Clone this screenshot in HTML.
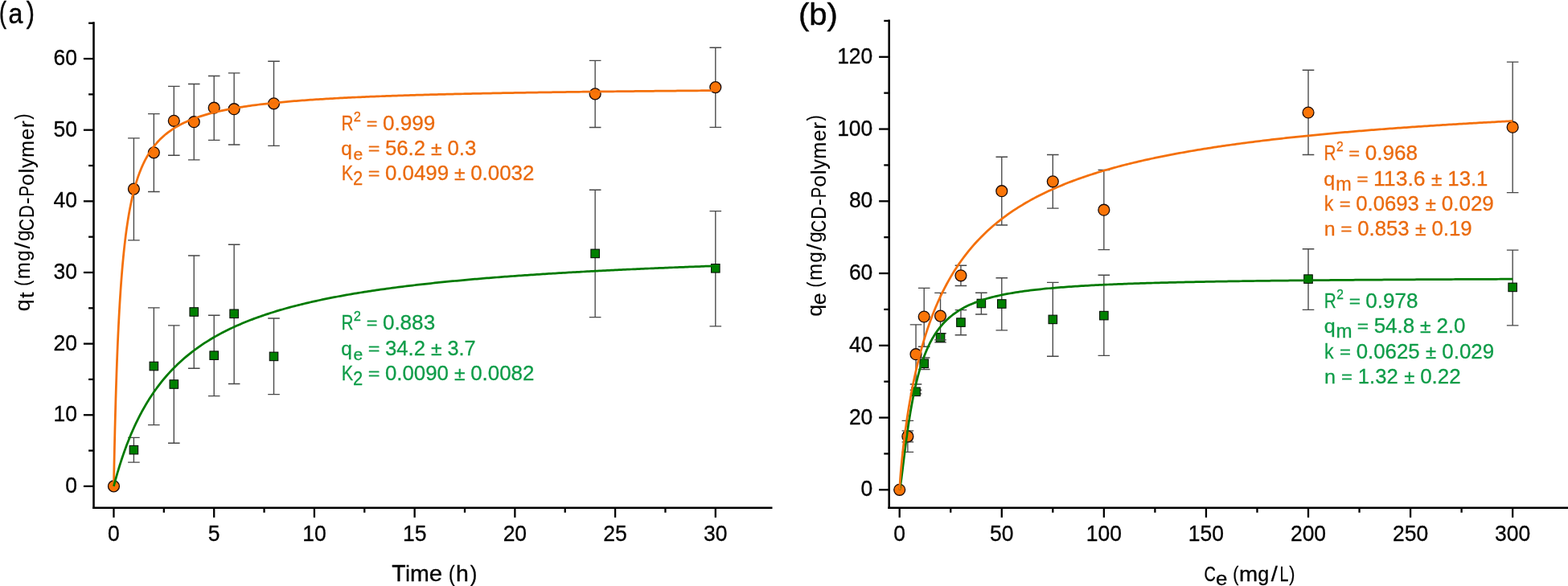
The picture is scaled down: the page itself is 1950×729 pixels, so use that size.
<!DOCTYPE html>
<html lang="en">
<head>
<meta charset="utf-8">
<title>Adsorption kinetics and isotherms</title>
<style>
html,body{margin:0;padding:0;background:#fff;}
body{width:1950px;height:729px;overflow:hidden;}
svg{display:block;font-family:'Liberation Sans',sans-serif;}
</style>
</head>
<body>
<svg width="1950" height="729" viewBox="0 0 1950 729">
<rect width="1950" height="729" fill="#fff"/>
<line x1="116.50" y1="27.20" x2="116.50" y2="632.98" stroke="#000" stroke-width="2.55" stroke-linecap="butt"/>
<line x1="115.22" y1="631.70" x2="960.50" y2="631.70" stroke="#000" stroke-width="2.55" stroke-linecap="butt"/>
<line x1="103.90" y1="604.90" x2="116.50" y2="604.90" stroke="#000" stroke-width="2.3" stroke-linecap="butt"/>
<line x1="103.90" y1="516.26" x2="116.50" y2="516.26" stroke="#000" stroke-width="2.3" stroke-linecap="butt"/>
<line x1="103.90" y1="427.62" x2="116.50" y2="427.62" stroke="#000" stroke-width="2.3" stroke-linecap="butt"/>
<line x1="103.90" y1="338.98" x2="116.50" y2="338.98" stroke="#000" stroke-width="2.3" stroke-linecap="butt"/>
<line x1="103.90" y1="250.34" x2="116.50" y2="250.34" stroke="#000" stroke-width="2.3" stroke-linecap="butt"/>
<line x1="103.90" y1="161.70" x2="116.50" y2="161.70" stroke="#000" stroke-width="2.3" stroke-linecap="butt"/>
<line x1="103.90" y1="73.06" x2="116.50" y2="73.06" stroke="#000" stroke-width="2.3" stroke-linecap="butt"/>
<line x1="110.10" y1="560.58" x2="116.50" y2="560.58" stroke="#000" stroke-width="2.3" stroke-linecap="butt"/>
<line x1="110.10" y1="471.94" x2="116.50" y2="471.94" stroke="#000" stroke-width="2.3" stroke-linecap="butt"/>
<line x1="110.10" y1="383.30" x2="116.50" y2="383.30" stroke="#000" stroke-width="2.3" stroke-linecap="butt"/>
<line x1="110.10" y1="294.66" x2="116.50" y2="294.66" stroke="#000" stroke-width="2.3" stroke-linecap="butt"/>
<line x1="110.10" y1="206.02" x2="116.50" y2="206.02" stroke="#000" stroke-width="2.3" stroke-linecap="butt"/>
<line x1="110.10" y1="117.38" x2="116.50" y2="117.38" stroke="#000" stroke-width="2.3" stroke-linecap="butt"/>
<line x1="110.10" y1="28.74" x2="116.50" y2="28.74" stroke="#000" stroke-width="2.3" stroke-linecap="butt"/>
<line x1="141.46" y1="631.70" x2="141.46" y2="643.80" stroke="#000" stroke-width="2.3" stroke-linecap="butt"/>
<line x1="266.19" y1="631.70" x2="266.19" y2="643.80" stroke="#000" stroke-width="2.3" stroke-linecap="butt"/>
<line x1="390.91" y1="631.70" x2="390.91" y2="643.80" stroke="#000" stroke-width="2.3" stroke-linecap="butt"/>
<line x1="515.63" y1="631.70" x2="515.63" y2="643.80" stroke="#000" stroke-width="2.3" stroke-linecap="butt"/>
<line x1="640.36" y1="631.70" x2="640.36" y2="643.80" stroke="#000" stroke-width="2.3" stroke-linecap="butt"/>
<line x1="765.09" y1="631.70" x2="765.09" y2="643.80" stroke="#000" stroke-width="2.3" stroke-linecap="butt"/>
<line x1="889.81" y1="631.70" x2="889.81" y2="643.80" stroke="#000" stroke-width="2.3" stroke-linecap="butt"/>
<line x1="203.82" y1="631.70" x2="203.82" y2="637.70" stroke="#000" stroke-width="2.3" stroke-linecap="butt"/>
<line x1="328.55" y1="631.70" x2="328.55" y2="637.70" stroke="#000" stroke-width="2.3" stroke-linecap="butt"/>
<line x1="453.27" y1="631.70" x2="453.27" y2="637.70" stroke="#000" stroke-width="2.3" stroke-linecap="butt"/>
<line x1="578.00" y1="631.70" x2="578.00" y2="637.70" stroke="#000" stroke-width="2.3" stroke-linecap="butt"/>
<line x1="702.72" y1="631.70" x2="702.72" y2="637.70" stroke="#000" stroke-width="2.3" stroke-linecap="butt"/>
<line x1="827.45" y1="631.70" x2="827.45" y2="637.70" stroke="#000" stroke-width="2.3" stroke-linecap="butt"/>
<g font-size="27.3" stroke="#000" stroke-width="0.3">
<text x="81.21" y="613" textLength="14.73" lengthAdjust="spacingAndGlyphs">0</text>
<text x="66.48" y="524" textLength="29.45" lengthAdjust="spacingAndGlyphs">10</text>
<text x="66.48" y="436" textLength="29.45" lengthAdjust="spacingAndGlyphs">20</text>
<text x="66.48" y="347" textLength="29.45" lengthAdjust="spacingAndGlyphs">30</text>
<text x="66.48" y="258" textLength="29.45" lengthAdjust="spacingAndGlyphs">40</text>
<text x="66.48" y="170" textLength="29.45" lengthAdjust="spacingAndGlyphs">50</text>
<text x="66.48" y="81" textLength="29.45" lengthAdjust="spacingAndGlyphs">60</text>
<text x="134.10" y="673" textLength="14.73" lengthAdjust="spacingAndGlyphs">0</text>
<text x="258.82" y="673" textLength="14.73" lengthAdjust="spacingAndGlyphs">5</text>
<text x="376.18" y="673" textLength="29.45" lengthAdjust="spacingAndGlyphs">10</text>
<text x="500.91" y="673" textLength="29.45" lengthAdjust="spacingAndGlyphs">15</text>
<text x="625.63" y="673" textLength="29.45" lengthAdjust="spacingAndGlyphs">20</text>
<text x="750.36" y="673" textLength="29.45" lengthAdjust="spacingAndGlyphs">25</text>
<text x="875.08" y="673" textLength="29.45" lengthAdjust="spacingAndGlyphs">30</text>
</g>
<line x1="1105.70" y1="24.50" x2="1105.70" y2="632.98" stroke="#000" stroke-width="2.55" stroke-linecap="butt"/>
<line x1="1104.42" y1="631.70" x2="1950.00" y2="631.70" stroke="#000" stroke-width="2.55" stroke-linecap="butt"/>
<line x1="1093.10" y1="609.30" x2="1105.70" y2="609.30" stroke="#000" stroke-width="2.3" stroke-linecap="butt"/>
<line x1="1093.10" y1="519.55" x2="1105.70" y2="519.55" stroke="#000" stroke-width="2.3" stroke-linecap="butt"/>
<line x1="1093.10" y1="429.80" x2="1105.70" y2="429.80" stroke="#000" stroke-width="2.3" stroke-linecap="butt"/>
<line x1="1093.10" y1="340.05" x2="1105.70" y2="340.05" stroke="#000" stroke-width="2.3" stroke-linecap="butt"/>
<line x1="1093.10" y1="250.30" x2="1105.70" y2="250.30" stroke="#000" stroke-width="2.3" stroke-linecap="butt"/>
<line x1="1093.10" y1="160.55" x2="1105.70" y2="160.55" stroke="#000" stroke-width="2.3" stroke-linecap="butt"/>
<line x1="1093.10" y1="70.80" x2="1105.70" y2="70.80" stroke="#000" stroke-width="2.3" stroke-linecap="butt"/>
<line x1="1099.30" y1="564.42" x2="1105.70" y2="564.42" stroke="#000" stroke-width="2.3" stroke-linecap="butt"/>
<line x1="1099.30" y1="474.67" x2="1105.70" y2="474.67" stroke="#000" stroke-width="2.3" stroke-linecap="butt"/>
<line x1="1099.30" y1="384.92" x2="1105.70" y2="384.92" stroke="#000" stroke-width="2.3" stroke-linecap="butt"/>
<line x1="1099.30" y1="295.17" x2="1105.70" y2="295.17" stroke="#000" stroke-width="2.3" stroke-linecap="butt"/>
<line x1="1099.30" y1="205.42" x2="1105.70" y2="205.42" stroke="#000" stroke-width="2.3" stroke-linecap="butt"/>
<line x1="1099.30" y1="115.67" x2="1105.70" y2="115.67" stroke="#000" stroke-width="2.3" stroke-linecap="butt"/>
<line x1="1099.30" y1="25.92" x2="1105.70" y2="25.92" stroke="#000" stroke-width="2.3" stroke-linecap="butt"/>
<line x1="1118.70" y1="631.70" x2="1118.70" y2="643.80" stroke="#000" stroke-width="2.3" stroke-linecap="butt"/>
<line x1="1245.78" y1="631.70" x2="1245.78" y2="643.80" stroke="#000" stroke-width="2.3" stroke-linecap="butt"/>
<line x1="1372.85" y1="631.70" x2="1372.85" y2="643.80" stroke="#000" stroke-width="2.3" stroke-linecap="butt"/>
<line x1="1499.93" y1="631.70" x2="1499.93" y2="643.80" stroke="#000" stroke-width="2.3" stroke-linecap="butt"/>
<line x1="1627.00" y1="631.70" x2="1627.00" y2="643.80" stroke="#000" stroke-width="2.3" stroke-linecap="butt"/>
<line x1="1754.08" y1="631.70" x2="1754.08" y2="643.80" stroke="#000" stroke-width="2.3" stroke-linecap="butt"/>
<line x1="1881.15" y1="631.70" x2="1881.15" y2="643.80" stroke="#000" stroke-width="2.3" stroke-linecap="butt"/>
<line x1="1182.24" y1="631.70" x2="1182.24" y2="637.70" stroke="#000" stroke-width="2.3" stroke-linecap="butt"/>
<line x1="1309.31" y1="631.70" x2="1309.31" y2="637.70" stroke="#000" stroke-width="2.3" stroke-linecap="butt"/>
<line x1="1436.39" y1="631.70" x2="1436.39" y2="637.70" stroke="#000" stroke-width="2.3" stroke-linecap="butt"/>
<line x1="1563.46" y1="631.70" x2="1563.46" y2="637.70" stroke="#000" stroke-width="2.3" stroke-linecap="butt"/>
<line x1="1690.54" y1="631.70" x2="1690.54" y2="637.70" stroke="#000" stroke-width="2.3" stroke-linecap="butt"/>
<line x1="1817.61" y1="631.70" x2="1817.61" y2="637.70" stroke="#000" stroke-width="2.3" stroke-linecap="butt"/>
<g font-size="27.3" stroke="#000" stroke-width="0.3">
<text x="1070.61" y="617" textLength="14.73" lengthAdjust="spacingAndGlyphs">0</text>
<text x="1055.88" y="528" textLength="29.45" lengthAdjust="spacingAndGlyphs">20</text>
<text x="1055.88" y="438" textLength="29.45" lengthAdjust="spacingAndGlyphs">40</text>
<text x="1055.88" y="348" textLength="29.45" lengthAdjust="spacingAndGlyphs">60</text>
<text x="1055.88" y="258" textLength="29.45" lengthAdjust="spacingAndGlyphs">80</text>
<text x="1041.15" y="169" textLength="44.18" lengthAdjust="spacingAndGlyphs">100</text>
<text x="1041.15" y="79" textLength="44.18" lengthAdjust="spacingAndGlyphs">120</text>
<text x="1111.34" y="673" textLength="14.73" lengthAdjust="spacingAndGlyphs">0</text>
<text x="1231.05" y="673" textLength="29.45" lengthAdjust="spacingAndGlyphs">50</text>
<text x="1350.76" y="673" textLength="44.18" lengthAdjust="spacingAndGlyphs">100</text>
<text x="1477.83" y="673" textLength="44.18" lengthAdjust="spacingAndGlyphs">150</text>
<text x="1604.91" y="673" textLength="44.18" lengthAdjust="spacingAndGlyphs">200</text>
<text x="1731.98" y="673" textLength="44.18" lengthAdjust="spacingAndGlyphs">250</text>
<text x="1859.06" y="673" textLength="44.18" lengthAdjust="spacingAndGlyphs">300</text>
</g>
<path d="M166.41 544.30V575.10M159.10 544.30H173.71M159.10 575.10H173.71" stroke="#474747" stroke-width="1.35" fill="none"/>
<path d="M191.35 382.90V528.60M184.05 382.90H198.65M184.05 528.60H198.65" stroke="#474747" stroke-width="1.35" fill="none"/>
<path d="M216.30 404.80V551.20M209.00 404.80H223.60M209.00 551.20H223.60" stroke="#474747" stroke-width="1.35" fill="none"/>
<path d="M241.24 318.00V458.20M233.94 318.00H248.54M233.94 458.20H248.54" stroke="#474747" stroke-width="1.35" fill="none"/>
<path d="M266.19 392.20V492.60M258.88 392.20H273.49M258.88 492.60H273.49" stroke="#474747" stroke-width="1.35" fill="none"/>
<path d="M291.13 304.20V477.50M283.83 304.20H298.43M283.83 477.50H298.43" stroke="#474747" stroke-width="1.35" fill="none"/>
<path d="M340.52 396.00V490.60M333.22 396.00H347.82M333.22 490.60H347.82" stroke="#474747" stroke-width="1.35" fill="none"/>
<path d="M740.14 236.20V394.60M732.84 236.20H747.44M732.84 394.60H747.44" stroke="#474747" stroke-width="1.35" fill="none"/>
<path d="M889.81 262.60V405.80M882.51 262.60H897.11M882.51 405.80H897.11" stroke="#474747" stroke-width="1.35" fill="none"/>
<rect x="161.16" y="554.45" width="10.5" height="10.5" fill="#008000" stroke="#041004" stroke-width="1.1"/>
<rect x="186.10" y="450.25" width="10.5" height="10.5" fill="#008000" stroke="#041004" stroke-width="1.1"/>
<rect x="211.05" y="472.75" width="10.5" height="10.5" fill="#008000" stroke="#041004" stroke-width="1.1"/>
<rect x="235.99" y="382.75" width="10.5" height="10.5" fill="#008000" stroke="#041004" stroke-width="1.1"/>
<rect x="260.94" y="436.95" width="10.5" height="10.5" fill="#008000" stroke="#041004" stroke-width="1.1"/>
<rect x="285.88" y="385.05" width="10.5" height="10.5" fill="#008000" stroke="#041004" stroke-width="1.1"/>
<rect x="335.27" y="438.15" width="10.5" height="10.5" fill="#008000" stroke="#041004" stroke-width="1.1"/>
<rect x="734.89" y="310.15" width="10.5" height="10.5" fill="#008000" stroke="#041004" stroke-width="1.1"/>
<rect x="884.56" y="328.55" width="10.5" height="10.5" fill="#008000" stroke="#041004" stroke-width="1.1"/>
<path d="M166.41 171.80V298.80M159.10 171.80H173.71M159.10 298.80H173.71" stroke="#474747" stroke-width="1.35" fill="none"/>
<path d="M191.35 141.60V238.50M184.05 141.60H198.65M184.05 238.50H198.65" stroke="#474747" stroke-width="1.35" fill="none"/>
<path d="M216.30 107.40V193.20M209.00 107.40H223.60M209.00 193.20H223.60" stroke="#474747" stroke-width="1.35" fill="none"/>
<path d="M241.24 104.50V198.90M233.94 104.50H248.54M233.94 198.90H248.54" stroke="#474747" stroke-width="1.35" fill="none"/>
<path d="M266.19 94.50V174.30M258.88 94.50H273.49M258.88 174.30H273.49" stroke="#474747" stroke-width="1.35" fill="none"/>
<path d="M291.13 90.90V180.00M283.83 90.90H298.43M283.83 180.00H298.43" stroke="#474747" stroke-width="1.35" fill="none"/>
<path d="M340.52 76.20V181.40M333.22 76.20H347.82M333.22 181.40H347.82" stroke="#474747" stroke-width="1.35" fill="none"/>
<path d="M740.14 75.40V158.50M732.84 75.40H747.44M732.84 158.50H747.44" stroke="#474747" stroke-width="1.35" fill="none"/>
<path d="M889.81 59.20V158.30M882.51 59.20H897.11M882.51 158.30H897.11" stroke="#474747" stroke-width="1.35" fill="none"/>
<circle cx="166.41" cy="235.10" r="6.95" fill="#fa7508" stroke="#1a0a05" stroke-width="1.3"/>
<circle cx="191.35" cy="189.80" r="6.95" fill="#fa7508" stroke="#1a0a05" stroke-width="1.3"/>
<circle cx="216.30" cy="150.30" r="6.95" fill="#fa7508" stroke="#1a0a05" stroke-width="1.3"/>
<circle cx="241.24" cy="151.70" r="6.95" fill="#fa7508" stroke="#1a0a05" stroke-width="1.3"/>
<circle cx="266.19" cy="134.20" r="6.95" fill="#fa7508" stroke="#1a0a05" stroke-width="1.3"/>
<circle cx="291.13" cy="135.70" r="6.95" fill="#fa7508" stroke="#1a0a05" stroke-width="1.3"/>
<circle cx="340.52" cy="128.80" r="6.95" fill="#fa7508" stroke="#1a0a05" stroke-width="1.3"/>
<circle cx="740.14" cy="116.90" r="6.95" fill="#fa7508" stroke="#1a0a05" stroke-width="1.3"/>
<circle cx="889.81" cy="108.60" r="6.95" fill="#fa7508" stroke="#1a0a05" stroke-width="1.3"/>
<circle cx="141.46" cy="604.90" r="6.95" fill="#fa7508" stroke="#1a0a05" stroke-width="1.3"/>
<polyline points="141.46,604.90 141.96,578.44 142.46,554.66 142.96,533.15 143.46,513.62 143.95,495.80 144.45,479.47 144.95,464.46 145.45,450.61 145.95,437.79 146.45,425.90 146.95,414.82 147.45,404.50 147.95,394.84 148.44,385.79 148.94,377.29 149.44,369.29 149.94,361.75 150.44,354.63 150.94,347.90 151.44,341.53 151.94,335.48 152.44,329.74 152.93,324.28 153.43,319.08 153.93,314.12 154.43,309.39 154.93,304.87 155.43,300.54 155.93,296.41 156.43,292.44 156.93,288.64 157.42,284.99 157.92,281.48 158.42,278.11 158.92,274.87 159.42,271.74 159.92,268.73 160.42,265.83 160.92,263.03 161.42,260.33 161.91,257.72 162.41,255.20 162.91,252.75 163.41,250.39 163.91,248.11 164.41,245.89 164.91,243.75 165.41,241.66 165.91,239.65 166.41,237.69 166.90,235.78 167.40,233.94 167.90,232.14 168.40,230.39 168.90,228.70 169.40,227.04 169.90,225.44 170.40,223.87 170.90,222.35 171.39,220.86 171.89,219.41 172.39,218.00 172.89,216.63 173.39,215.28 173.89,213.97 174.39,212.69 174.89,211.44 175.39,210.22 175.88,209.03 176.38,207.87 176.88,206.73 177.38,205.62 177.88,204.53 178.38,203.46 178.88,202.42 179.38,201.40 179.88,200.40 180.37,199.43 180.87,198.47 181.37,197.53 181.87,196.61 182.37,195.71 182.87,194.83 183.37,193.97 183.87,193.12 184.37,192.29 184.86,191.47 185.36,190.67 185.86,189.88 186.36,189.11 186.86,188.36 187.36,187.61 187.86,186.88 188.36,186.17 188.86,185.46 189.35,184.77 189.85,184.09 190.35,183.42 190.85,182.77 191.35,182.12 193.84,179.05 196.34,176.22 198.83,173.61 201.33,171.18 203.82,168.93 206.32,166.82 208.81,164.86 211.31,163.02 213.80,161.29 216.30,159.66 218.79,158.13 221.28,156.69 223.78,155.32 226.27,154.03 228.77,152.80 231.26,151.64 233.76,150.53 236.25,149.48 238.75,148.48 241.24,147.52 243.73,146.60 246.23,145.73 248.72,144.89 251.22,144.09 253.71,143.32 256.21,142.58 258.70,141.87 261.20,141.19 263.69,140.54 266.19,139.91 268.68,139.30 271.17,138.71 273.67,138.15 276.16,137.60 278.66,137.07 281.15,136.56 283.65,136.07 286.14,135.60 288.64,135.13 291.13,134.69 293.62,134.26 296.12,133.84 298.61,133.43 301.11,133.03 303.60,132.65 306.10,132.28 308.59,131.92 311.09,131.56 313.58,131.22 316.08,130.89 318.57,130.57 321.06,130.25 323.56,129.94 326.05,129.64 328.55,129.35 331.04,129.07 333.54,128.79 336.03,128.52 338.53,128.26 341.02,128.00 343.51,127.75 346.01,127.50 348.50,127.26 351.00,127.03 353.49,126.80 355.99,126.58 358.48,126.36 360.98,126.14 363.47,125.93 365.97,125.73 368.46,125.53 370.95,125.33 373.45,125.14 375.94,124.95 378.44,124.77 380.93,124.58 383.43,124.41 385.92,124.23 388.42,124.06 390.91,123.90 393.40,123.73 395.90,123.57 398.39,123.41 400.89,123.26 403.38,123.11 405.88,122.96 408.37,122.81 410.87,122.67 413.36,122.52 415.86,122.38 418.35,122.25 420.84,122.11 423.34,121.98 425.83,121.85 428.33,121.73 430.82,121.60 433.32,121.48 435.81,121.36 438.31,121.24 440.80,121.12 443.29,121.00 445.79,120.89 448.28,120.78 450.78,120.67 453.27,120.56 455.77,120.45 458.26,120.35 460.76,120.24 463.25,120.14 465.75,120.04 468.24,119.94 470.73,119.85 473.23,119.75 475.72,119.66 478.22,119.56 480.71,119.47 483.21,119.38 485.70,119.29 488.20,119.20 490.69,119.12 493.18,119.03 495.68,118.95 498.17,118.86 500.67,118.78 503.16,118.70 505.66,118.62 508.15,118.54 510.65,118.46 513.14,118.39 515.63,118.31 518.13,118.24 520.62,118.16 523.12,118.09 525.61,118.02 528.11,117.95 530.60,117.88 533.10,117.81 535.59,117.74 538.09,117.67 540.58,117.60 543.07,117.54 545.57,117.47 548.06,117.41 550.56,117.34 553.05,117.28 555.55,117.22 558.04,117.16 560.54,117.10 563.03,117.04 565.52,116.98 568.02,116.92 570.51,116.86 573.01,116.80 575.50,116.75 578.00,116.69 580.49,116.64 582.99,116.58 585.48,116.53 587.98,116.47 590.47,116.42 592.96,116.37 595.46,116.32 597.95,116.26 600.45,116.21 602.94,116.16 605.44,116.11 607.93,116.06 610.43,116.02 612.92,115.97 615.41,115.92 617.91,115.87 620.40,115.83 622.90,115.78 625.39,115.73 627.89,115.69 630.38,115.64 632.88,115.60 635.37,115.56 637.87,115.51 640.36,115.47 642.85,115.43 645.35,115.38 647.84,115.34 650.34,115.30 652.83,115.26 655.33,115.22 657.82,115.18 660.32,115.14 662.81,115.10 665.31,115.06 667.80,115.02 670.29,114.98 672.79,114.95 675.28,114.91 677.78,114.87 680.27,114.83 682.77,114.80 685.26,114.76 687.76,114.72 690.25,114.69 692.74,114.65 695.24,114.62 697.73,114.58 700.23,114.55 702.72,114.51 705.22,114.48 707.71,114.45 710.21,114.41 712.70,114.38 715.20,114.35 717.69,114.32 720.18,114.28 722.68,114.25 725.17,114.22 727.67,114.19 730.16,114.16 732.66,114.13 735.15,114.10 737.65,114.07 740.14,114.04 742.63,114.01 745.13,113.98 747.62,113.95 750.12,113.92 752.61,113.89 755.11,113.86 757.60,113.83 760.10,113.80 762.59,113.78 765.09,113.75 767.58,113.72 770.07,113.69 772.57,113.67 775.06,113.64 777.56,113.61 780.05,113.59 782.55,113.56 785.04,113.53 787.54,113.51 790.03,113.48 792.52,113.46 795.02,113.43 797.51,113.41 800.01,113.38 802.50,113.36 805.00,113.33 807.49,113.31 809.99,113.28 812.48,113.26 814.98,113.24 817.47,113.21 819.96,113.19 822.46,113.17 824.95,113.14 827.45,113.12 829.94,113.10 832.44,113.07 834.93,113.05 837.43,113.03 839.92,113.01 842.41,112.99 844.91,112.96 847.40,112.94 849.90,112.92 852.39,112.90 854.89,112.88 857.38,112.86 859.88,112.84 862.37,112.81 864.87,112.79 867.36,112.77 869.85,112.75 872.35,112.73 874.84,112.71 877.34,112.69 879.83,112.67 882.33,112.65 884.82,112.63 887.32,112.61 889.81,112.59" fill="none" stroke="#f4700a" stroke-width="2.75" stroke-linejoin="round" stroke-linecap="butt"/>
<polyline points="141.46,604.90 141.96,603.00 142.46,601.13 142.96,599.28 143.46,597.46 143.95,595.65 144.45,593.87 144.95,592.11 145.45,590.37 145.95,588.65 146.45,586.95 146.95,585.27 147.45,583.62 147.95,581.98 148.44,580.36 148.94,578.75 149.44,577.17 149.94,575.60 150.44,574.06 150.94,572.53 151.44,571.01 151.94,569.52 152.44,568.04 152.93,566.57 153.43,565.12 153.93,563.69 154.43,562.27 154.93,560.87 155.43,559.49 155.93,558.12 156.43,556.76 156.93,555.42 157.42,554.09 157.92,552.77 158.42,551.47 158.92,550.18 159.42,548.91 159.92,547.65 160.42,546.40 160.92,545.16 161.42,543.94 161.91,542.73 162.41,541.53 162.91,540.34 163.41,539.16 163.91,538.00 164.41,536.85 164.91,535.71 165.41,534.57 165.91,533.45 166.41,532.35 166.90,531.25 167.40,530.16 167.90,529.08 168.40,528.01 168.90,526.96 169.40,525.91 169.90,524.87 170.40,523.84 170.90,522.82 171.39,521.81 171.89,520.81 172.39,519.82 172.89,518.84 173.39,517.86 173.89,516.90 174.39,515.94 174.89,514.99 175.39,514.05 175.88,513.12 176.38,512.20 176.88,511.28 177.38,510.38 177.88,509.48 178.38,508.58 178.88,507.70 179.38,506.82 179.88,505.95 180.37,505.09 180.87,504.24 181.37,503.39 181.87,502.55 182.37,501.72 182.87,500.89 183.37,500.07 183.87,499.26 184.37,498.45 184.86,497.65 185.36,496.86 185.86,496.07 186.36,495.29 186.86,494.51 187.36,493.75 187.86,492.98 188.36,492.23 188.86,491.48 189.35,490.73 189.85,490.00 190.35,489.26 190.85,488.54 191.35,487.81 193.84,484.29 196.34,480.90 198.83,477.63 201.33,474.47 203.82,471.43 206.32,468.49 208.81,465.66 211.31,462.92 213.80,460.26 216.30,457.70 218.79,455.21 221.28,452.81 223.78,450.48 226.27,448.22 228.77,446.02 231.26,443.89 233.76,441.83 236.25,439.82 238.75,437.87 241.24,435.97 243.73,434.13 246.23,432.34 248.72,430.59 251.22,428.89 253.71,427.23 256.21,425.62 258.70,424.05 261.20,422.51 263.69,421.02 266.19,419.56 268.68,418.14 271.17,416.75 273.67,415.39 276.16,414.07 278.66,412.77 281.15,411.51 283.65,410.27 286.14,409.06 288.64,407.88 291.13,406.73 293.62,405.59 296.12,404.49 298.61,403.40 301.11,402.34 303.60,401.30 306.10,400.28 308.59,399.29 311.09,398.31 313.58,397.35 316.08,396.41 318.57,395.49 321.06,394.59 323.56,393.70 326.05,392.83 328.55,391.98 331.04,391.14 333.54,390.32 336.03,389.51 338.53,388.72 341.02,387.94 343.51,387.18 346.01,386.43 348.50,385.69 351.00,384.97 353.49,384.25 355.99,383.55 358.48,382.86 360.98,382.19 363.47,381.52 365.97,380.87 368.46,380.22 370.95,379.59 373.45,378.96 375.94,378.35 378.44,377.75 380.93,377.15 383.43,376.57 385.92,375.99 388.42,375.42 390.91,374.86 393.40,374.31 395.90,373.77 398.39,373.24 400.89,372.71 403.38,372.19 405.88,371.68 408.37,371.17 410.87,370.68 413.36,370.19 415.86,369.71 418.35,369.23 420.84,368.76 423.34,368.30 425.83,367.84 428.33,367.39 430.82,366.95 433.32,366.51 435.81,366.08 438.31,365.65 440.80,365.23 443.29,364.81 445.79,364.40 448.28,364.00 450.78,363.60 453.27,363.20 455.77,362.81 458.26,362.43 460.76,362.05 463.25,361.68 465.75,361.31 468.24,360.94 470.73,360.58 473.23,360.22 475.72,359.87 478.22,359.52 480.71,359.18 483.21,358.84 485.70,358.50 488.20,358.17 490.69,357.84 493.18,357.51 495.68,357.19 498.17,356.88 500.67,356.56 503.16,356.25 505.66,355.95 508.15,355.64 510.65,355.34 513.14,355.05 515.63,354.75 518.13,354.46 520.62,354.18 523.12,353.89 525.61,353.61 528.11,353.33 530.60,353.06 533.10,352.79 535.59,352.52 538.09,352.25 540.58,351.99 543.07,351.73 545.57,351.47 548.06,351.22 550.56,350.96 553.05,350.71 555.55,350.47 558.04,350.22 560.54,349.98 563.03,349.74 565.52,349.50 568.02,349.26 570.51,349.03 573.01,348.80 575.50,348.57 578.00,348.35 580.49,348.12 582.99,347.90 585.48,347.68 587.98,347.46 590.47,347.24 592.96,347.03 595.46,346.82 597.95,346.61 600.45,346.40 602.94,346.20 605.44,345.99 607.93,345.79 610.43,345.59 612.92,345.39 615.41,345.19 617.91,345.00 620.40,344.81 622.90,344.61 625.39,344.42 627.89,344.24 630.38,344.05 632.88,343.86 635.37,343.68 637.87,343.50 640.36,343.32 642.85,343.14 645.35,342.96 647.84,342.79 650.34,342.61 652.83,342.44 655.33,342.27 657.82,342.10 660.32,341.93 662.81,341.77 665.31,341.60 667.80,341.44 670.29,341.27 672.79,341.11 675.28,340.95 677.78,340.79 680.27,340.64 682.77,340.48 685.26,340.32 687.76,340.17 690.25,340.02 692.74,339.87 695.24,339.72 697.73,339.57 700.23,339.42 702.72,339.27 705.22,339.13 707.71,338.98 710.21,338.84 712.70,338.70 715.20,338.56 717.69,338.42 720.18,338.28 722.68,338.14 725.17,338.00 727.67,337.87 730.16,337.73 732.66,337.60 735.15,337.46 737.65,337.33 740.14,337.20 742.63,337.07 745.13,336.94 747.62,336.81 750.12,336.69 752.61,336.56 755.11,336.44 757.60,336.31 760.10,336.19 762.59,336.07 765.09,335.94 767.58,335.82 770.07,335.70 772.57,335.58 775.06,335.46 777.56,335.35 780.05,335.23 782.55,335.11 785.04,335.00 787.54,334.89 790.03,334.77 792.52,334.66 795.02,334.55 797.51,334.44 800.01,334.33 802.50,334.22 805.00,334.11 807.49,334.00 809.99,333.89 812.48,333.78 814.98,333.68 817.47,333.57 819.96,333.47 822.46,333.36 824.95,333.26 827.45,333.16 829.94,333.06 832.44,332.95 834.93,332.85 837.43,332.75 839.92,332.65 842.41,332.55 844.91,332.46 847.40,332.36 849.90,332.26 852.39,332.17 854.89,332.07 857.38,331.97 859.88,331.88 862.37,331.79 864.87,331.69 867.36,331.60 869.85,331.51 872.35,331.42 874.84,331.33 877.34,331.23 879.83,331.15 882.33,331.06 884.82,330.97 887.32,330.88 889.81,330.79" fill="none" stroke="#007a00" stroke-width="2.75" stroke-linejoin="round" stroke-linecap="butt"/>
<path d="M1128.87 535.90V549.90M1121.57 535.90H1136.17M1121.57 549.90H1136.17" stroke="#474747" stroke-width="1.35" fill="none"/>
<path d="M1139.03 485.20V489.80M1131.73 485.20H1146.33M1131.73 489.80H1146.33" stroke="#474747" stroke-width="1.35" fill="none"/>
<path d="M1149.20 445.00V459.50M1141.90 445.00H1156.50M1141.90 459.50H1156.50" stroke="#474747" stroke-width="1.35" fill="none"/>
<path d="M1169.53 414.70V425.80M1162.23 414.70H1176.83M1162.23 425.80H1176.83" stroke="#474747" stroke-width="1.35" fill="none"/>
<path d="M1194.95 385.60V416.70M1187.65 385.60H1202.25M1187.65 416.70H1202.25" stroke="#474747" stroke-width="1.35" fill="none"/>
<path d="M1220.36 364.20V391.00M1213.06 364.20H1227.66M1213.06 391.00H1227.66" stroke="#474747" stroke-width="1.35" fill="none"/>
<path d="M1245.78 345.70V410.90M1238.48 345.70H1253.08M1238.48 410.90H1253.08" stroke="#474747" stroke-width="1.35" fill="none"/>
<path d="M1309.31 351.30V443.20M1302.01 351.30H1316.61M1302.01 443.20H1316.61" stroke="#474747" stroke-width="1.35" fill="none"/>
<path d="M1372.85 342.20V442.30M1365.55 342.20H1380.15M1365.55 442.30H1380.15" stroke="#474747" stroke-width="1.35" fill="none"/>
<path d="M1627.00 309.70V385.40M1619.70 309.70H1634.30M1619.70 385.40H1634.30" stroke="#474747" stroke-width="1.35" fill="none"/>
<path d="M1881.15 311.10V404.80M1873.85 311.10H1888.45M1873.85 404.80H1888.45" stroke="#474747" stroke-width="1.35" fill="none"/>
<rect x="1123.62" y="537.65" width="10.5" height="10.5" fill="#008000" stroke="#041004" stroke-width="1.1"/>
<rect x="1133.78" y="482.05" width="10.5" height="10.5" fill="#008000" stroke="#041004" stroke-width="1.1"/>
<rect x="1143.95" y="446.95" width="10.5" height="10.5" fill="#008000" stroke="#041004" stroke-width="1.1"/>
<rect x="1164.28" y="414.75" width="10.5" height="10.5" fill="#008000" stroke="#041004" stroke-width="1.1"/>
<rect x="1189.70" y="395.85" width="10.5" height="10.5" fill="#008000" stroke="#041004" stroke-width="1.1"/>
<rect x="1215.11" y="372.25" width="10.5" height="10.5" fill="#008000" stroke="#041004" stroke-width="1.1"/>
<rect x="1240.53" y="372.75" width="10.5" height="10.5" fill="#008000" stroke="#041004" stroke-width="1.1"/>
<rect x="1304.06" y="392.15" width="10.5" height="10.5" fill="#008000" stroke="#041004" stroke-width="1.1"/>
<rect x="1367.60" y="387.35" width="10.5" height="10.5" fill="#008000" stroke="#041004" stroke-width="1.1"/>
<rect x="1621.75" y="341.85" width="10.5" height="10.5" fill="#008000" stroke="#041004" stroke-width="1.1"/>
<rect x="1875.90" y="352.15" width="10.5" height="10.5" fill="#008000" stroke="#041004" stroke-width="1.1"/>
<path d="M1128.87 523.40V562.30M1121.57 523.40H1136.17M1121.57 562.30H1136.17" stroke="#474747" stroke-width="1.35" fill="none"/>
<path d="M1139.03 403.80V478.00M1131.73 403.80H1146.33M1131.73 478.00H1146.33" stroke="#474747" stroke-width="1.35" fill="none"/>
<path d="M1149.20 358.40V431.20M1141.90 358.40H1156.50M1141.90 431.20H1156.50" stroke="#474747" stroke-width="1.35" fill="none"/>
<path d="M1169.53 364.30V422.90M1162.23 364.30H1176.83M1162.23 422.90H1176.83" stroke="#474747" stroke-width="1.35" fill="none"/>
<path d="M1194.95 330.20V355.50M1187.65 330.20H1202.25M1187.65 355.50H1202.25" stroke="#474747" stroke-width="1.35" fill="none"/>
<path d="M1245.78 195.20V280.00M1238.48 195.20H1253.08M1238.48 280.00H1253.08" stroke="#474747" stroke-width="1.35" fill="none"/>
<path d="M1309.31 192.50V259.10M1302.01 192.50H1316.61M1302.01 259.10H1316.61" stroke="#474747" stroke-width="1.35" fill="none"/>
<path d="M1372.85 211.50V310.60M1365.55 211.50H1380.15M1365.55 310.60H1380.15" stroke="#474747" stroke-width="1.35" fill="none"/>
<path d="M1627.00 87.20V192.50M1619.70 87.20H1634.30M1619.70 192.50H1634.30" stroke="#474747" stroke-width="1.35" fill="none"/>
<path d="M1881.15 77.10V239.60M1873.85 77.10H1888.45M1873.85 239.60H1888.45" stroke="#474747" stroke-width="1.35" fill="none"/>
<circle cx="1128.87" cy="542.90" r="6.95" fill="#fa7508" stroke="#1a0a05" stroke-width="1.3"/>
<circle cx="1139.03" cy="440.70" r="6.95" fill="#fa7508" stroke="#1a0a05" stroke-width="1.3"/>
<circle cx="1149.20" cy="394.00" r="6.95" fill="#fa7508" stroke="#1a0a05" stroke-width="1.3"/>
<circle cx="1169.53" cy="393.10" r="6.95" fill="#fa7508" stroke="#1a0a05" stroke-width="1.3"/>
<circle cx="1194.95" cy="342.80" r="6.95" fill="#fa7508" stroke="#1a0a05" stroke-width="1.3"/>
<circle cx="1245.78" cy="237.70" r="6.95" fill="#fa7508" stroke="#1a0a05" stroke-width="1.3"/>
<circle cx="1309.31" cy="225.80" r="6.95" fill="#fa7508" stroke="#1a0a05" stroke-width="1.3"/>
<circle cx="1372.85" cy="261.20" r="6.95" fill="#fa7508" stroke="#1a0a05" stroke-width="1.3"/>
<circle cx="1627.00" cy="140.00" r="6.95" fill="#fa7508" stroke="#1a0a05" stroke-width="1.3"/>
<circle cx="1881.15" cy="158.20" r="6.95" fill="#fa7508" stroke="#1a0a05" stroke-width="1.3"/>
<circle cx="1118.70" cy="609.30" r="6.95" fill="#fa7508" stroke="#1a0a05" stroke-width="1.3"/>
<polyline points="1118.70,609.30 1118.95,608.50 1119.21,607.30 1119.46,605.91 1119.72,604.38 1119.97,602.73 1120.22,601.01 1120.48,599.21 1120.73,597.36 1120.99,595.45 1121.24,593.52 1121.50,591.54 1121.75,589.55 1122.00,587.53 1122.26,585.50 1122.51,583.46 1122.77,581.40 1123.02,579.34 1123.27,577.28 1123.53,575.23 1123.78,573.17 1124.04,571.11 1124.29,569.07 1124.55,567.03 1124.80,565.00 1125.05,562.98 1125.31,560.97 1125.56,558.97 1125.82,556.99 1126.07,555.02 1126.32,553.07 1126.58,551.13 1126.83,549.21 1127.09,547.31 1127.34,545.42 1127.60,543.55 1127.85,541.70 1128.10,539.87 1128.36,538.06 1128.61,536.26 1128.87,534.48 1129.12,532.73 1129.37,530.99 1129.63,529.27 1129.88,527.57 1130.14,525.88 1130.39,524.22 1130.65,522.58 1130.90,520.95 1131.15,519.35 1131.41,517.76 1131.66,516.19 1131.92,514.64 1132.17,513.11 1132.42,511.60 1132.68,510.11 1132.93,508.63 1133.19,507.17 1133.44,505.73 1133.69,504.31 1133.95,502.90 1134.20,501.52 1134.46,500.14 1134.71,498.79 1134.97,497.45 1135.22,496.13 1135.47,494.83 1135.73,493.54 1135.98,492.27 1136.24,491.01 1136.49,489.77 1136.74,488.55 1137.00,487.34 1137.25,486.14 1137.51,484.96 1137.76,483.79 1138.02,482.64 1138.27,481.51 1138.52,480.38 1138.78,479.27 1139.03,478.18 1139.29,477.10 1139.54,476.03 1139.79,474.97 1140.05,473.93 1140.30,472.90 1140.56,471.88 1140.81,470.88 1141.07,469.88 1141.32,468.90 1141.57,467.93 1141.83,466.98 1142.08,466.03 1142.34,465.10 1142.59,464.17 1142.84,463.26 1143.10,462.36 1143.35,461.47 1143.61,460.59 1143.86,459.72 1144.12,458.86 1144.37,458.01 1144.62,457.17 1144.88,456.34 1145.13,455.52 1145.39,454.71 1145.64,453.91 1145.89,453.12 1146.15,452.33 1146.40,451.56 1146.66,450.80 1146.91,450.04 1147.16,449.29 1147.42,448.55 1147.67,447.82 1147.93,447.10 1148.18,446.39 1148.44,445.68 1148.69,444.98 1148.94,444.29 1149.20,443.61 1149.45,442.93 1149.71,442.26 1149.96,441.60 1150.21,440.95 1150.47,440.30 1150.72,439.66 1150.98,439.03 1151.23,438.41 1151.49,437.79 1151.74,437.18 1151.99,436.57 1152.25,435.97 1152.50,435.38 1152.76,434.79 1153.01,434.21 1153.26,433.64 1153.52,433.07 1153.77,432.51 1154.03,431.95 1154.28,431.40 1154.54,430.85 1154.79,430.32 1155.04,429.78 1155.30,429.25 1155.55,428.73 1155.81,428.21 1156.06,427.70 1156.31,427.19 1156.57,426.69 1156.82,426.19 1157.08,425.70 1157.33,425.22 1157.58,424.73 1157.84,424.26 1158.09,423.78 1158.35,423.31 1158.60,422.85 1158.86,422.39 1159.11,421.94 1159.36,421.49 1159.62,421.04 1159.87,420.60 1160.13,420.16 1160.38,419.73 1160.63,419.30 1160.89,418.88 1161.14,418.45 1161.40,418.04 1161.65,417.63 1161.91,417.22 1162.16,416.81 1162.41,416.41 1162.67,416.01 1162.92,415.62 1163.18,415.23 1163.43,414.84 1163.68,414.46 1163.94,414.08 1164.19,413.70 1164.45,413.33 1164.70,412.96 1164.96,412.59 1165.21,412.23 1165.46,411.87 1165.72,411.51 1165.97,411.16 1166.23,410.81 1166.48,410.46 1166.73,410.12 1166.99,409.78 1167.24,409.44 1167.50,409.10 1167.75,408.77 1168.01,408.44 1168.26,408.12 1168.51,407.79 1168.77,407.47 1169.02,407.15 1169.28,406.84 1169.53,406.53 1172.07,403.54 1174.61,400.79 1177.15,398.26 1179.70,395.91 1182.24,393.73 1184.78,391.71 1187.32,389.82 1189.86,388.07 1192.40,386.42 1194.95,384.88 1197.49,383.44 1200.03,382.08 1202.57,380.81 1205.11,379.61 1207.65,378.47 1210.19,377.40 1212.74,376.39 1215.28,375.42 1217.82,374.51 1220.36,373.65 1222.90,372.83 1225.44,372.04 1227.98,371.30 1230.53,370.59 1233.07,369.91 1235.61,369.26 1238.15,368.64 1240.69,368.05 1243.23,367.49 1245.78,366.94 1248.32,366.42 1250.86,365.92 1253.40,365.44 1255.94,364.98 1258.48,364.54 1261.02,364.11 1263.57,363.70 1266.11,363.30 1268.65,362.92 1271.19,362.56 1273.73,362.20 1276.27,361.86 1278.81,361.53 1281.36,361.21 1283.90,360.90 1286.44,360.60 1288.98,360.31 1291.52,360.03 1294.06,359.76 1296.61,359.50 1299.15,359.24 1301.69,358.99 1304.23,358.75 1306.77,358.52 1309.31,358.29 1311.85,358.07 1314.40,357.86 1316.94,357.65 1319.48,357.45 1322.02,357.26 1324.56,357.07 1327.10,356.88 1329.64,356.70 1332.19,356.52 1334.73,356.35 1337.27,356.18 1339.81,356.02 1342.35,355.86 1344.89,355.71 1347.43,355.56 1349.98,355.41 1352.52,355.27 1355.06,355.12 1357.60,354.99 1360.14,354.85 1362.68,354.72 1365.23,354.60 1367.77,354.47 1370.31,354.35 1372.85,354.23 1375.39,354.11 1377.93,354.00 1380.47,353.89 1383.02,353.78 1385.56,353.67 1388.10,353.56 1390.64,353.46 1393.18,353.36 1395.72,353.26 1398.27,353.17 1400.81,353.07 1403.35,352.98 1405.89,352.89 1408.43,352.80 1410.97,352.71 1413.51,352.63 1416.06,352.54 1418.60,352.46 1421.14,352.38 1423.68,352.30 1426.22,352.22 1428.76,352.15 1431.30,352.07 1433.85,352.00 1436.39,351.92 1438.93,351.85 1441.47,351.78 1444.01,351.72 1446.55,351.65 1449.10,351.58 1451.64,351.52 1454.18,351.45 1456.72,351.39 1459.26,351.33 1461.80,351.27 1464.34,351.21 1466.89,351.15 1469.43,351.09 1471.97,351.03 1474.51,350.98 1477.05,350.92 1479.59,350.87 1482.13,350.82 1484.68,350.76 1487.22,350.71 1489.76,350.66 1492.30,350.61 1494.84,350.56 1497.38,350.51 1499.93,350.46 1502.47,350.42 1505.01,350.37 1507.55,350.32 1510.09,350.28 1512.63,350.24 1515.17,350.19 1517.72,350.15 1520.26,350.11 1522.80,350.06 1525.34,350.02 1527.88,349.98 1530.42,349.94 1532.96,349.90 1535.51,349.86 1538.05,349.82 1540.59,349.79 1543.13,349.75 1545.67,349.71 1548.21,349.68 1550.76,349.64 1553.30,349.60 1555.84,349.57 1558.38,349.53 1560.92,349.50 1563.46,349.47 1566.00,349.43 1568.55,349.40 1571.09,349.37 1573.63,349.34 1576.17,349.30 1578.71,349.27 1581.25,349.24 1583.79,349.21 1586.34,349.18 1588.88,349.15 1591.42,349.12 1593.96,349.09 1596.50,349.06 1599.04,349.04 1601.59,349.01 1604.13,348.98 1606.67,348.95 1609.21,348.93 1611.75,348.90 1614.29,348.87 1616.83,348.85 1619.38,348.82 1621.92,348.80 1624.46,348.77 1627.00,348.75 1629.54,348.72 1632.08,348.70 1634.62,348.67 1637.17,348.65 1639.71,348.63 1642.25,348.60 1644.79,348.58 1647.33,348.56 1649.87,348.53 1652.41,348.51 1654.96,348.49 1657.50,348.47 1660.04,348.45 1662.58,348.43 1665.12,348.41 1667.66,348.38 1670.21,348.36 1672.75,348.34 1675.29,348.32 1677.83,348.30 1680.37,348.28 1682.91,348.26 1685.45,348.24 1688.00,348.23 1690.54,348.21 1693.08,348.19 1695.62,348.17 1698.16,348.15 1700.70,348.13 1703.25,348.11 1705.79,348.10 1708.33,348.08 1710.87,348.06 1713.41,348.04 1715.95,348.03 1718.49,348.01 1721.04,347.99 1723.58,347.98 1726.12,347.96 1728.66,347.94 1731.20,347.93 1733.74,347.91 1736.28,347.89 1738.83,347.88 1741.37,347.86 1743.91,347.85 1746.45,347.83 1748.99,347.82 1751.53,347.80 1754.08,347.79 1756.62,347.77 1759.16,347.76 1761.70,347.74 1764.24,347.73 1766.78,347.71 1769.32,347.70 1771.87,347.69 1774.41,347.67 1776.95,347.66 1779.49,347.65 1782.03,347.63 1784.57,347.62 1787.11,347.61 1789.66,347.59 1792.20,347.58 1794.74,347.57 1797.28,347.55 1799.82,347.54 1802.36,347.53 1804.91,347.52 1807.45,347.50 1809.99,347.49 1812.53,347.48 1815.07,347.47 1817.61,347.45 1820.15,347.44 1822.70,347.43 1825.24,347.42 1827.78,347.41 1830.32,347.40 1832.86,347.38 1835.40,347.37 1837.94,347.36 1840.49,347.35 1843.03,347.34 1845.57,347.33 1848.11,347.32 1850.65,347.31 1853.19,347.30 1855.74,347.29 1858.28,347.28 1860.82,347.27 1863.36,347.25 1865.90,347.24 1868.44,347.23 1870.98,347.22 1873.53,347.21 1876.07,347.20 1878.61,347.19 1881.15,347.18" fill="none" stroke="#007a00" stroke-width="2.75" stroke-linejoin="round" stroke-linecap="butt"/>
<polyline points="1118.70,609.30 1118.95,604.39 1119.21,600.50 1119.46,596.96 1119.72,593.63 1119.97,590.46 1120.22,587.43 1120.48,584.51 1120.73,581.68 1120.99,578.93 1121.24,576.26 1121.50,573.66 1121.75,571.12 1122.00,568.64 1122.26,566.21 1122.51,563.83 1122.77,561.50 1123.02,559.21 1123.27,556.96 1123.53,554.76 1123.78,552.59 1124.04,550.46 1124.29,548.36 1124.55,546.29 1124.80,544.26 1125.05,542.26 1125.31,540.29 1125.56,538.35 1125.82,536.43 1126.07,534.54 1126.32,532.68 1126.58,530.84 1126.83,529.02 1127.09,527.23 1127.34,525.46 1127.60,523.72 1127.85,521.99 1128.10,520.29 1128.36,518.60 1128.61,516.94 1128.87,515.30 1129.12,513.67 1129.37,512.06 1129.63,510.47 1129.88,508.90 1130.14,507.35 1130.39,505.81 1130.65,504.29 1130.90,502.78 1131.15,501.29 1131.41,499.82 1131.66,498.36 1131.92,496.92 1132.17,495.49 1132.42,494.07 1132.68,492.67 1132.93,491.28 1133.19,489.90 1133.44,488.54 1133.69,487.19 1133.95,485.86 1134.20,484.53 1134.46,483.22 1134.71,481.92 1134.97,480.63 1135.22,479.36 1135.47,478.09 1135.73,476.84 1135.98,475.60 1136.24,474.37 1136.49,473.14 1136.74,471.93 1137.00,470.73 1137.25,469.54 1137.51,468.36 1137.76,467.19 1138.02,466.03 1138.27,464.88 1138.52,463.74 1138.78,462.60 1139.03,461.48 1139.29,460.37 1139.54,459.26 1139.79,458.16 1140.05,457.07 1140.30,455.99 1140.56,454.92 1140.81,453.86 1141.07,452.80 1141.32,451.76 1141.57,450.72 1141.83,449.69 1142.08,448.66 1142.34,447.65 1142.59,446.64 1142.84,445.64 1143.10,444.64 1143.35,443.65 1143.61,442.68 1143.86,441.70 1144.12,440.74 1144.37,439.78 1144.62,438.83 1144.88,437.88 1145.13,436.94 1145.39,436.01 1145.64,435.08 1145.89,434.16 1146.15,433.25 1146.40,432.34 1146.66,431.44 1146.91,430.55 1147.16,429.66 1147.42,428.77 1147.67,427.90 1147.93,427.03 1148.18,426.16 1148.44,425.30 1148.69,424.44 1148.94,423.60 1149.20,422.75 1149.45,421.91 1149.71,421.08 1149.96,420.25 1150.21,419.43 1150.47,418.61 1150.72,417.80 1150.98,417.00 1151.23,416.19 1151.49,415.40 1151.74,414.61 1151.99,413.82 1152.25,413.04 1152.50,412.26 1152.76,411.48 1153.01,410.72 1153.26,409.95 1153.52,409.19 1153.77,408.44 1154.03,407.69 1154.28,406.94 1154.54,406.20 1154.79,405.47 1155.04,404.73 1155.30,404.00 1155.55,403.28 1155.81,402.56 1156.06,401.84 1156.31,401.13 1156.57,400.42 1156.82,399.72 1157.08,399.02 1157.33,398.32 1157.58,397.63 1157.84,396.94 1158.09,396.26 1158.35,395.58 1158.60,394.90 1158.86,394.23 1159.11,393.56 1159.36,392.89 1159.62,392.23 1159.87,391.57 1160.13,390.92 1160.38,390.27 1160.63,389.62 1160.89,388.97 1161.14,388.33 1161.40,387.70 1161.65,387.06 1161.91,386.43 1162.16,385.80 1162.41,385.18 1162.67,384.56 1162.92,383.94 1163.18,383.32 1163.43,382.71 1163.68,382.10 1163.94,381.50 1164.19,380.90 1164.45,380.30 1164.70,379.70 1164.96,379.11 1165.21,378.52 1165.46,377.93 1165.72,377.35 1165.97,376.76 1166.23,376.19 1166.48,375.61 1166.73,375.04 1166.99,374.47 1167.24,373.90 1167.50,373.34 1167.75,372.77 1168.01,372.21 1168.26,371.66 1168.51,371.10 1168.77,370.55 1169.02,370.01 1169.28,369.46 1169.53,368.92 1172.07,363.62 1174.61,358.57 1177.15,353.74 1179.70,349.11 1182.24,344.68 1184.78,340.42 1187.32,336.34 1189.86,332.41 1192.40,328.63 1194.95,324.99 1197.49,321.47 1200.03,318.09 1202.57,314.82 1205.11,311.66 1207.65,308.60 1210.19,305.64 1212.74,302.78 1215.28,300.01 1217.82,297.32 1220.36,294.71 1222.90,292.18 1225.44,289.72 1227.98,287.33 1230.53,285.01 1233.07,282.76 1235.61,280.56 1238.15,278.43 1240.69,276.35 1243.23,274.32 1245.78,272.35 1248.32,270.42 1250.86,268.55 1253.40,266.72 1255.94,264.93 1258.48,263.19 1261.02,261.48 1263.57,259.82 1266.11,258.19 1268.65,256.60 1271.19,255.05 1273.73,253.53 1276.27,252.04 1278.81,250.59 1281.36,249.16 1283.90,247.77 1286.44,246.40 1288.98,245.07 1291.52,243.76 1294.06,242.47 1296.61,241.21 1299.15,239.98 1301.69,238.77 1304.23,237.58 1306.77,236.41 1309.31,235.27 1311.85,234.15 1314.40,233.05 1316.94,231.97 1319.48,230.90 1322.02,229.86 1324.56,228.83 1327.10,227.83 1329.64,226.84 1332.19,225.86 1334.73,224.91 1337.27,223.97 1339.81,223.04 1342.35,222.13 1344.89,221.23 1347.43,220.35 1349.98,219.49 1352.52,218.63 1355.06,217.79 1357.60,216.97 1360.14,216.15 1362.68,215.35 1365.23,214.56 1367.77,213.79 1370.31,213.02 1372.85,212.26 1375.39,211.52 1377.93,210.79 1380.47,210.07 1383.02,209.35 1385.56,208.65 1388.10,207.96 1390.64,207.28 1393.18,206.61 1395.72,205.94 1398.27,205.29 1400.81,204.64 1403.35,204.01 1405.89,203.38 1408.43,202.76 1410.97,202.14 1413.51,201.54 1416.06,200.94 1418.60,200.36 1421.14,199.77 1423.68,199.20 1426.22,198.63 1428.76,198.08 1431.30,197.52 1433.85,196.98 1436.39,196.44 1438.93,195.91 1441.47,195.38 1444.01,194.86 1446.55,194.35 1449.10,193.84 1451.64,193.34 1454.18,192.84 1456.72,192.35 1459.26,191.87 1461.80,191.39 1464.34,190.92 1466.89,190.45 1469.43,189.99 1471.97,189.53 1474.51,189.08 1477.05,188.63 1479.59,188.19 1482.13,187.75 1484.68,187.32 1487.22,186.89 1489.76,186.47 1492.30,186.05 1494.84,185.63 1497.38,185.22 1499.93,184.81 1502.47,184.41 1505.01,184.02 1507.55,183.62 1510.09,183.23 1512.63,182.85 1515.17,182.47 1517.72,182.09 1520.26,181.71 1522.80,181.34 1525.34,180.98 1527.88,180.61 1530.42,180.25 1532.96,179.90 1535.51,179.55 1538.05,179.20 1540.59,178.85 1543.13,178.51 1545.67,178.17 1548.21,177.83 1550.76,177.50 1553.30,177.17 1555.84,176.84 1558.38,176.52 1560.92,176.20 1563.46,175.88 1566.00,175.56 1568.55,175.25 1571.09,174.94 1573.63,174.64 1576.17,174.33 1578.71,174.03 1581.25,173.73 1583.79,173.44 1586.34,173.14 1588.88,172.85 1591.42,172.56 1593.96,172.28 1596.50,172.00 1599.04,171.72 1601.59,171.44 1604.13,171.16 1606.67,170.89 1609.21,170.62 1611.75,170.35 1614.29,170.08 1616.83,169.81 1619.38,169.55 1621.92,169.29 1624.46,169.03 1627.00,168.78 1629.54,168.52 1632.08,168.27 1634.62,168.02 1637.17,167.77 1639.71,167.53 1642.25,167.28 1644.79,167.04 1647.33,166.80 1649.87,166.56 1652.41,166.32 1654.96,166.09 1657.50,165.85 1660.04,165.62 1662.58,165.39 1665.12,165.17 1667.66,164.94 1670.21,164.72 1672.75,164.49 1675.29,164.27 1677.83,164.05 1680.37,163.84 1682.91,163.62 1685.45,163.40 1688.00,163.19 1690.54,162.98 1693.08,162.77 1695.62,162.56 1698.16,162.36 1700.70,162.15 1703.25,161.95 1705.79,161.74 1708.33,161.54 1710.87,161.34 1713.41,161.14 1715.95,160.95 1718.49,160.75 1721.04,160.56 1723.58,160.37 1726.12,160.17 1728.66,159.98 1731.20,159.80 1733.74,159.61 1736.28,159.42 1738.83,159.24 1741.37,159.05 1743.91,158.87 1746.45,158.69 1748.99,158.51 1751.53,158.33 1754.08,158.15 1756.62,157.98 1759.16,157.80 1761.70,157.63 1764.24,157.45 1766.78,157.28 1769.32,157.11 1771.87,156.94 1774.41,156.77 1776.95,156.61 1779.49,156.44 1782.03,156.27 1784.57,156.11 1787.11,155.95 1789.66,155.78 1792.20,155.62 1794.74,155.46 1797.28,155.30 1799.82,155.15 1802.36,154.99 1804.91,154.83 1807.45,154.68 1809.99,154.52 1812.53,154.37 1815.07,154.22 1817.61,154.06 1820.15,153.91 1822.70,153.76 1825.24,153.62 1827.78,153.47 1830.32,153.32 1832.86,153.17 1835.40,153.03 1837.94,152.88 1840.49,152.74 1843.03,152.60 1845.57,152.46 1848.11,152.32 1850.65,152.18 1853.19,152.04 1855.74,151.90 1858.28,151.76 1860.82,151.62 1863.36,151.49 1865.90,151.35 1868.44,151.22 1870.98,151.08 1873.53,150.95 1876.07,150.82 1878.61,150.68 1881.15,150.55" fill="none" stroke="#f4700a" stroke-width="2.75" stroke-linejoin="round" stroke-linecap="butt"/>
<text fill="#ea6a0e" stroke="#ea6a0e" stroke-width="0.3"><tspan x="424.50" y="162.00" font-size="26.4" textLength="14.96" lengthAdjust="spacingAndGlyphs">R</tspan><tspan x="439.67" y="151.00" font-size="17" textLength="9.16" lengthAdjust="spacingAndGlyphs">2</tspan> <tspan x="455.75" y="161.00" font-size="21" textLength="13.70" lengthAdjust="spacingAndGlyphs">=</tspan> <tspan x="475.88" y="162.00" font-size="26.4" textLength="65.36" lengthAdjust="spacingAndGlyphs">0.999</tspan></text>
<text fill="#ea6a0e" stroke="#ea6a0e" stroke-width="0.3"><tspan x="424.37" y="193.00" font-size="24.4" textLength="13.59" lengthAdjust="spacingAndGlyphs">q</tspan><tspan x="439.60" y="199.00" font-size="19.8" textLength="11.73" lengthAdjust="spacingAndGlyphs">e</tspan> <tspan x="457.67" y="192.00" font-size="21" textLength="14.66" lengthAdjust="spacingAndGlyphs">=</tspan> <tspan x="478.97" y="193.00" font-size="26.4" textLength="50.02" lengthAdjust="spacingAndGlyphs">56.2</tspan> <tspan x="536.12" y="193.00" font-size="24.4" textLength="13.56" lengthAdjust="spacingAndGlyphs">±</tspan> <tspan x="556.39" y="193.00" font-size="26.4" textLength="35.95" lengthAdjust="spacingAndGlyphs">0.3</tspan></text>
<text fill="#ea6a0e" stroke="#ea6a0e" stroke-width="0.3"><tspan x="424.83" y="224.00" font-size="26.4" textLength="14.42" lengthAdjust="spacingAndGlyphs">K</tspan><tspan x="439.00" y="230.00" font-size="23.4" textLength="12.21" lengthAdjust="spacingAndGlyphs">2</tspan> <tspan x="457.67" y="223.00" font-size="21" textLength="14.66" lengthAdjust="spacingAndGlyphs">=</tspan> <tspan x="478.99" y="224.00" font-size="26.4" textLength="79.14" lengthAdjust="spacingAndGlyphs">0.0499</tspan> <tspan x="564.92" y="224.00" font-size="24.4" textLength="13.56" lengthAdjust="spacingAndGlyphs">±</tspan> <tspan x="585.19" y="224.00" font-size="26.4" textLength="79.21" lengthAdjust="spacingAndGlyphs">0.0032</tspan></text>
<text fill="#0e9c48" stroke="#0e9c48" stroke-width="0.3"><tspan x="424.50" y="410.00" font-size="26.4" textLength="14.96" lengthAdjust="spacingAndGlyphs">R</tspan><tspan x="439.67" y="399.00" font-size="17" textLength="9.16" lengthAdjust="spacingAndGlyphs">2</tspan> <tspan x="455.75" y="409.00" font-size="21" textLength="13.70" lengthAdjust="spacingAndGlyphs">=</tspan> <tspan x="475.88" y="410.00" font-size="26.4" textLength="65.26" lengthAdjust="spacingAndGlyphs">0.883</tspan></text>
<text fill="#0e9c48" stroke="#0e9c48" stroke-width="0.3"><tspan x="424.37" y="442.00" font-size="24.4" textLength="13.59" lengthAdjust="spacingAndGlyphs">q</tspan><tspan x="439.60" y="448.00" font-size="19.8" textLength="11.73" lengthAdjust="spacingAndGlyphs">e</tspan> <tspan x="457.67" y="441.00" font-size="21" textLength="14.66" lengthAdjust="spacingAndGlyphs">=</tspan> <tspan x="479.02" y="442.00" font-size="26.4" textLength="49.97" lengthAdjust="spacingAndGlyphs">34.2</tspan> <tspan x="536.12" y="442.00" font-size="24.4" textLength="13.56" lengthAdjust="spacingAndGlyphs">±</tspan> <tspan x="556.44" y="442.00" font-size="26.4" textLength="35.13" lengthAdjust="spacingAndGlyphs">3.7</tspan></text>
<text fill="#0e9c48" stroke="#0e9c48" stroke-width="0.3"><tspan x="424.83" y="473.00" font-size="26.4" textLength="14.42" lengthAdjust="spacingAndGlyphs">K</tspan><tspan x="439.00" y="479.00" font-size="23.4" textLength="12.21" lengthAdjust="spacingAndGlyphs">2</tspan> <tspan x="457.67" y="472.00" font-size="21" textLength="14.66" lengthAdjust="spacingAndGlyphs">=</tspan> <tspan x="478.99" y="473.00" font-size="26.4" textLength="78.92" lengthAdjust="spacingAndGlyphs">0.0090</tspan> <tspan x="564.92" y="473.00" font-size="24.4" textLength="13.56" lengthAdjust="spacingAndGlyphs">±</tspan> <tspan x="585.19" y="473.00" font-size="26.4" textLength="79.21" lengthAdjust="spacingAndGlyphs">0.0082</tspan></text>
<text fill="#ea6a0e" stroke="#ea6a0e" stroke-width="0.3"><tspan x="1646.50" y="199.00" font-size="26.4" textLength="14.96" lengthAdjust="spacingAndGlyphs">R</tspan><tspan x="1662.02" y="188.00" font-size="17" textLength="8.67" lengthAdjust="spacingAndGlyphs">2</tspan> <tspan x="1677.34" y="198.00" font-size="21" textLength="13.82" lengthAdjust="spacingAndGlyphs">=</tspan> <tspan x="1697.78" y="199.00" font-size="26.4" textLength="65.36" lengthAdjust="spacingAndGlyphs">0.968</tspan></text>
<text fill="#ea6a0e" stroke="#ea6a0e" stroke-width="0.3"><tspan x="1646.15" y="231.00" font-size="24.4" textLength="13.96" lengthAdjust="spacingAndGlyphs">q</tspan><tspan x="1661.25" y="237.00" font-size="24.4" textLength="19.50" lengthAdjust="spacingAndGlyphs">m</tspan> <tspan x="1687.29" y="230.00" font-size="21" textLength="14.42" lengthAdjust="spacingAndGlyphs">=</tspan> <tspan x="1708.03" y="231.00" font-size="26.4" textLength="64.60" lengthAdjust="spacingAndGlyphs">113.6</tspan> <tspan x="1780.03" y="231.00" font-size="24.4" textLength="13.33" lengthAdjust="spacingAndGlyphs">±</tspan> <tspan x="1800.34" y="231.00" font-size="26.4" textLength="50.12" lengthAdjust="spacingAndGlyphs">13.1</tspan></text>
<text fill="#ea6a0e" stroke="#ea6a0e" stroke-width="0.3"><tspan x="1646.65" y="262.00" font-size="25.6" textLength="11.52" lengthAdjust="spacingAndGlyphs">k</tspan> <tspan x="1665.73" y="261.00" font-size="21" textLength="13.94" lengthAdjust="spacingAndGlyphs">=</tspan> <tspan x="1686.19" y="262.00" font-size="26.4" textLength="78.74" lengthAdjust="spacingAndGlyphs">0.0693</tspan> <tspan x="1772.64" y="262.00" font-size="24.4" textLength="13.10" lengthAdjust="spacingAndGlyphs">±</tspan> <tspan x="1792.78" y="262.00" font-size="26.4" textLength="65.05" lengthAdjust="spacingAndGlyphs">0.029</tspan></text>
<text fill="#ea6a0e" stroke="#ea6a0e" stroke-width="0.3"><tspan x="1646.74" y="293.00" font-size="24.4" textLength="13.88" lengthAdjust="spacingAndGlyphs">n</tspan> <tspan x="1667.31" y="292.00" font-size="21" textLength="14.18" lengthAdjust="spacingAndGlyphs">=</tspan> <tspan x="1688.19" y="293.00" font-size="26.4" textLength="64.44" lengthAdjust="spacingAndGlyphs">0.853</tspan> <tspan x="1760.02" y="293.00" font-size="24.4" textLength="13.56" lengthAdjust="spacingAndGlyphs">±</tspan> <tspan x="1780.49" y="293.00" font-size="26.4" textLength="50.23" lengthAdjust="spacingAndGlyphs">0.19</tspan></text>
<text fill="#0e9c48" stroke="#0e9c48" stroke-width="0.3"><tspan x="1646.80" y="383.00" font-size="26.4" textLength="14.96" lengthAdjust="spacingAndGlyphs">R</tspan><tspan x="1662.32" y="372.00" font-size="17" textLength="8.67" lengthAdjust="spacingAndGlyphs">2</tspan> <tspan x="1677.70" y="382.00" font-size="21" textLength="14.30" lengthAdjust="spacingAndGlyphs">=</tspan> <tspan x="1698.18" y="383.00" font-size="26.4" textLength="65.25" lengthAdjust="spacingAndGlyphs">0.978</tspan></text>
<text fill="#0e9c48" stroke="#0e9c48" stroke-width="0.3"><tspan x="1646.65" y="414.00" font-size="24.4" textLength="13.96" lengthAdjust="spacingAndGlyphs">q</tspan><tspan x="1661.50" y="420.00" font-size="24.4" textLength="20.09" lengthAdjust="spacingAndGlyphs">m</tspan> <tspan x="1687.70" y="413.00" font-size="21" textLength="14.30" lengthAdjust="spacingAndGlyphs">=</tspan> <tspan x="1708.66" y="414.00" font-size="26.4" textLength="50.46" lengthAdjust="spacingAndGlyphs">54.8</tspan> <tspan x="1766.12" y="414.00" font-size="24.4" textLength="13.56" lengthAdjust="spacingAndGlyphs">±</tspan> <tspan x="1786.39" y="414.00" font-size="26.4" textLength="36.12" lengthAdjust="spacingAndGlyphs">2.0</tspan></text>
<text fill="#0e9c48" stroke="#0e9c48" stroke-width="0.3"><tspan x="1646.95" y="446.00" font-size="25.6" textLength="11.52" lengthAdjust="spacingAndGlyphs">k</tspan> <tspan x="1666.03" y="445.00" font-size="21" textLength="13.94" lengthAdjust="spacingAndGlyphs">=</tspan> <tspan x="1686.69" y="446.00" font-size="26.4" textLength="78.99" lengthAdjust="spacingAndGlyphs">0.0625</tspan> <tspan x="1773.04" y="446.00" font-size="24.4" textLength="13.10" lengthAdjust="spacingAndGlyphs">±</tspan> <tspan x="1793.29" y="446.00" font-size="26.4" textLength="64.84" lengthAdjust="spacingAndGlyphs">0.029</tspan></text>
<text fill="#0e9c48" stroke="#0e9c48" stroke-width="0.3"><tspan x="1646.93" y="477.00" font-size="24.4" textLength="14.01" lengthAdjust="spacingAndGlyphs">n</tspan> <tspan x="1668.03" y="476.00" font-size="21" textLength="13.94" lengthAdjust="spacingAndGlyphs">=</tspan> <tspan x="1688.85" y="477.00" font-size="26.4" textLength="49.84" lengthAdjust="spacingAndGlyphs">1.32</tspan> <tspan x="1746.14" y="477.00" font-size="24.4" textLength="13.10" lengthAdjust="spacingAndGlyphs">±</tspan> <tspan x="1766.19" y="477.00" font-size="26.4" textLength="50.52" lengthAdjust="spacingAndGlyphs">0.22</tspan></text>
<text fill="#000" stroke="#000" stroke-width="0.35"><tspan x="487.36" y="722.60" font-size="29" textLength="17.28" lengthAdjust="spacingAndGlyphs">T</tspan><tspan x="504.13" y="722.60" font-size="27.8" textLength="5.56" lengthAdjust="spacingAndGlyphs">i</tspan><tspan x="510.10" y="722.60" font-size="27.6" textLength="23.78" lengthAdjust="spacingAndGlyphs">m</tspan><tspan x="533.85" y="722.60" font-size="27.6" textLength="16.36" lengthAdjust="spacingAndGlyphs">e</tspan> <tspan x="557.97" y="722.60" font-size="27.8" textLength="7.66" lengthAdjust="spacingAndGlyphs">(</tspan><tspan x="566.93" y="722.60" font-size="27.8" textLength="15.82" lengthAdjust="spacingAndGlyphs">h</tspan><tspan x="584.75" y="722.60" font-size="27.8" textLength="8.54" lengthAdjust="spacingAndGlyphs">)</tspan></text>
<text fill="#000" stroke="#000" stroke-width="0.3"><tspan x="1497.39" y="722.90" font-size="26.2" textLength="14.37" lengthAdjust="spacingAndGlyphs">C</tspan><tspan x="1512.11" y="728.30" font-size="23" textLength="14.33" lengthAdjust="spacingAndGlyphs">e</tspan> <tspan x="1533.27" y="722.90" font-size="26" textLength="7.16" lengthAdjust="spacingAndGlyphs">(</tspan><tspan x="1540.95" y="722.90" font-size="26" textLength="23.18" lengthAdjust="spacingAndGlyphs">m</tspan><tspan x="1564.34" y="722.90" font-size="26" textLength="13.97" lengthAdjust="spacingAndGlyphs">g</tspan><tspan x="1580.65" y="722.90" font-size="26" textLength="8.09" lengthAdjust="spacingAndGlyphs">/</tspan><tspan x="1591.40" y="722.90" font-size="26.2" textLength="10.85" lengthAdjust="spacingAndGlyphs">L</tspan><tspan x="1603.37" y="722.90" font-size="26" textLength="7.16" lengthAdjust="spacingAndGlyphs">)</tspan></text>
<text transform="rotate(-90)" fill="#000" stroke="#000" stroke-width="0.1"><tspan x="-387.37" y="36.50" font-size="26" textLength="14.89" lengthAdjust="spacingAndGlyphs">q</tspan><tspan x="-371.02" y="42.10" font-size="25" textLength="7.72" lengthAdjust="spacingAndGlyphs">t</tspan> <tspan x="-355.86" y="36.50" font-size="26" textLength="6.78" lengthAdjust="spacingAndGlyphs">(</tspan><tspan x="-347.29" y="36.50" font-size="26" textLength="21.16" lengthAdjust="spacingAndGlyphs">m</tspan><tspan x="-325.04" y="36.50" font-size="26" textLength="13.73" lengthAdjust="spacingAndGlyphs">g</tspan><tspan x="-309.55" y="36.50" font-size="26" textLength="8.09" lengthAdjust="spacingAndGlyphs">/</tspan><tspan x="-300.04" y="36.50" font-size="26" textLength="13.73" lengthAdjust="spacingAndGlyphs">g</tspan><tspan x="-287.17" y="42.10" font-size="26.2" textLength="15.28" lengthAdjust="spacingAndGlyphs">C</tspan><tspan x="-271.10" y="42.10" font-size="26.2" textLength="15.85" lengthAdjust="spacingAndGlyphs">D</tspan><tspan x="-253.95" y="42.10" font-size="26.2" textLength="8.59" lengthAdjust="spacingAndGlyphs">-</tspan><tspan x="-244.55" y="42.10" font-size="26.2" textLength="13.41" lengthAdjust="spacingAndGlyphs">P</tspan><tspan x="-231.11" y="42.10" font-size="26" textLength="14.72" lengthAdjust="spacingAndGlyphs">o</tspan><tspan x="-215.74" y="42.10" font-size="26" textLength="6.47" lengthAdjust="spacingAndGlyphs">l</tspan><tspan x="-209.06" y="42.10" font-size="26" textLength="12.51" lengthAdjust="spacingAndGlyphs">y</tspan><tspan x="-196.10" y="42.10" font-size="26" textLength="21.28" lengthAdjust="spacingAndGlyphs">m</tspan><tspan x="-173.99" y="42.10" font-size="26" textLength="14.22" lengthAdjust="spacingAndGlyphs">e</tspan><tspan x="-159.08" y="42.10" font-size="26" textLength="8.92" lengthAdjust="spacingAndGlyphs">r</tspan><tspan x="-148.52" y="36.50" font-size="26" textLength="6.91" lengthAdjust="spacingAndGlyphs">)</tspan></text>
<text transform="rotate(-90)" fill="#000" stroke="#000" stroke-width="0.1"><tspan x="-393.77" y="1021.60" font-size="26" textLength="14.89" lengthAdjust="spacingAndGlyphs">q</tspan><tspan x="-379.33" y="1027.20" font-size="25" textLength="14.82" lengthAdjust="spacingAndGlyphs">e</tspan> <tspan x="-357.61" y="1021.60" font-size="26" textLength="6.78" lengthAdjust="spacingAndGlyphs">(</tspan><tspan x="-349.04" y="1021.60" font-size="26" textLength="21.16" lengthAdjust="spacingAndGlyphs">m</tspan><tspan x="-326.79" y="1021.60" font-size="26" textLength="13.73" lengthAdjust="spacingAndGlyphs">g</tspan><tspan x="-311.30" y="1021.60" font-size="26" textLength="8.09" lengthAdjust="spacingAndGlyphs">/</tspan><tspan x="-301.79" y="1021.60" font-size="26" textLength="13.73" lengthAdjust="spacingAndGlyphs">g</tspan><tspan x="-288.92" y="1027.20" font-size="26.2" textLength="15.28" lengthAdjust="spacingAndGlyphs">C</tspan><tspan x="-272.85" y="1027.20" font-size="26.2" textLength="15.85" lengthAdjust="spacingAndGlyphs">D</tspan><tspan x="-255.70" y="1027.20" font-size="26.2" textLength="8.59" lengthAdjust="spacingAndGlyphs">-</tspan><tspan x="-246.30" y="1027.20" font-size="26.2" textLength="13.41" lengthAdjust="spacingAndGlyphs">P</tspan><tspan x="-232.86" y="1027.20" font-size="26" textLength="14.72" lengthAdjust="spacingAndGlyphs">o</tspan><tspan x="-217.49" y="1027.20" font-size="26" textLength="6.47" lengthAdjust="spacingAndGlyphs">l</tspan><tspan x="-210.81" y="1027.20" font-size="26" textLength="12.51" lengthAdjust="spacingAndGlyphs">y</tspan><tspan x="-197.85" y="1027.20" font-size="26" textLength="21.28" lengthAdjust="spacingAndGlyphs">m</tspan><tspan x="-175.74" y="1027.20" font-size="26" textLength="14.22" lengthAdjust="spacingAndGlyphs">e</tspan><tspan x="-160.83" y="1027.20" font-size="26" textLength="8.92" lengthAdjust="spacingAndGlyphs">r</tspan><tspan x="-150.27" y="1021.60" font-size="26" textLength="6.91" lengthAdjust="spacingAndGlyphs">)</tspan></text>
<text fill="#000" stroke="#000" stroke-width="0.5"><tspan x="-1.10" y="28.30" font-size="37.5" textLength="8.99" lengthAdjust="spacingAndGlyphs">(</tspan><tspan x="10.44" y="29.30" font-size="35.6" textLength="17.86" lengthAdjust="spacingAndGlyphs">a</tspan><tspan x="32.82" y="28.30" font-size="37.5" textLength="10.17" lengthAdjust="spacingAndGlyphs">)</tspan></text>
<text fill="#000" stroke="#000" stroke-width="0.4"><tspan x="992.91" y="30.90" font-size="38.6" textLength="49.08" lengthAdjust="spacingAndGlyphs">(b)</tspan></text>
</svg>
</body>
</html>
